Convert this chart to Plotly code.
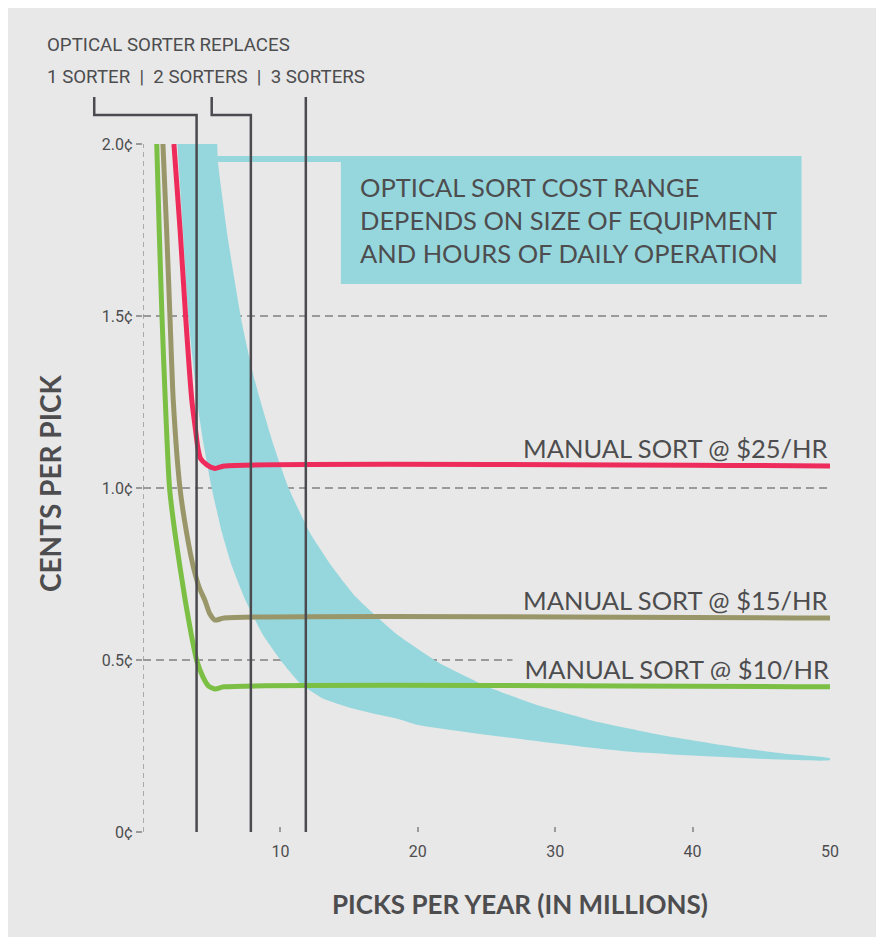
import plotly.graph_objects as go

# ---------------- data ----------------
band_upper_x = [5.4, 5.45, 6.2, 7.2, 8.15, 9.5, 10.6, 12.15, 13.7, 15.5, 18.4, 21.5, 25.0, 28.4, 33.2, 38.1, 42.9, 46.6, 50.0]
band_upper_y = [2.0, 1.95, 1.72, 1.48, 1.31, 1.125, 1.0, 0.87, 0.775, 0.683, 0.577, 0.493, 0.424, 0.373, 0.319, 0.279, 0.248, 0.228, 0.214]
band_lower_x = [2.5, 2.9, 3.3, 3.95, 4.4, 5.0, 5.75, 6.5, 7.5, 8.7, 10.2, 11.5, 13.1, 15.0, 17.0, 18.7, 20.0, 35.0, 50.0]
band_lower_y = [2.0, 1.75, 1.5, 1.25, 1.13, 1.0, 0.87, 0.77, 0.67, 0.575, 0.49, 0.43, 0.388, 0.362, 0.342, 0.327, 0.311, 0.235, 0.209]

red_x = [2.25, 2.7, 3.1, 3.55, 3.82, 4.0, 4.2, 4.63, 5.24, 5.9, 50.0]
red_y = [2.0, 1.75, 1.5, 1.256, 1.17, 1.115, 1.085, 1.068, 1.057, 1.064, 1.064]

olive_x = [1.45, 1.72, 1.96, 2.2, 2.69, 3.18, 3.66, 4.1, 4.5, 4.85, 5.24, 5.9, 50.0]
olive_y = [2.0, 1.75, 1.5, 1.256, 1.0, 0.868, 0.771, 0.71, 0.674, 0.635, 0.616, 0.622, 0.622]

green_x = [1.0, 1.18, 1.38, 1.62, 1.93, 2.33, 2.69, 3.07, 3.5, 3.9, 4.37, 4.75, 5.24, 5.9, 50.0]
green_y = [2.0, 1.75, 1.5, 1.256, 1.0, 0.868, 0.771, 0.674, 0.577, 0.5, 0.45, 0.425, 0.416, 0.422, 0.422]

manual_labels = ["MANUAL SORT @ $25/HR", "MANUAL SORT @ $15/HR", "MANUAL SORT @ $10/HR"]
sorter_x = [3.9, 7.85, 11.85]          # optical sorter replaces 1 / 2 / 3 sorters
sorter_label_x = [-3.55, 5.0, 11.85]   # where the brackets meet the header labels
y_tickvals = [0, 0.5, 1.0, 1.5, 2.0]
y_ticktext = ["0¢", "0.5¢", "1.0¢", "1.5¢", "2.0¢"]
x_tickvals = [10, 20, 30, 40, 50]
callout_text = "OPTICAL SORT COST RANGE<br>DEPENDS ON SIZE OF EQUIPMENT<br>AND HOURS OF DAILY OPERATION"

# ---------------- style ----------------
BG = "#e8e8e8"
TEXT = "#4d4d4f"
GRID = "#9a9a9a"
CYAN = "#96d7dd"
RED = "#ee2c5c"
OLIVE = "#99976a"
GREEN = "#7bbf44"
DARK = "#4a4a4f"
MAIN_FONT = "Lato, 'Open Sans', sans-serif"
NARROW_FONT = "Roboto, 'Open Sans', sans-serif"

W, H = 884, 937
ML, MR, MT, MB = 135, 62, 136, 113
PW, PH = W - ML - MR, H - MT - MB
X0, X1 = 0, 50
Y0, Y1 = 0, 2.0
OFF = 8  # page body margin


def paper_x(win_px):
    return (win_px - OFF - ML) / PW


def paper_y(win_py):
    return (H - MB - (win_py - OFF)) / PH


def data_to_paper_x(v):
    return (v - X0) / (X1 - X0)


fig = go.Figure()

# band
fig.add_trace(go.Scatter(
    x=band_upper_x + band_lower_x[::-1],
    y=band_upper_y + band_lower_y[::-1],
    fill="toself", fillcolor=CYAN, mode="lines",
    line=dict(width=0, color=CYAN, shape="spline", smoothing=0.5),
    hoverinfo="skip", showlegend=False))

for xs, ys, col in [(green_x, green_y, GREEN), (olive_x, olive_y, OLIVE), (red_x, red_y, RED)]:
    fig.add_trace(go.Scatter(x=xs, y=ys, mode="lines",
                             line=dict(color=col, width=5, shape="spline", smoothing=0.6),
                             hoverinfo="skip", showlegend=False))

shapes = []
# dashed y axis line
shapes.append(dict(type="line", xref="x", yref="y", x0=0, x1=0, y0=Y0, y1=Y1,
                   line=dict(color=GRID, width=1.6, dash="5px,4px"), layer="below"))
# callout box and connector strip
shapes.append(dict(type="rect", xref="x", yref="y", x0=14.4, x1=47.93, y0=1.593, y1=1.965,
                   fillcolor=CYAN, line=dict(width=0), layer="above"))
shapes.append(dict(type="rect", xref="x", yref="y", x0=5.4, x1=14.5, y0=1.948, y1=1.965,
                   fillcolor=CYAN, line=dict(width=0), layer="above"))

# vertical sorter lines with brackets
top_bracket = paper_y(115)
top_end = paper_y(97)
for sx, lx in zip(sorter_x, sorter_label_x):
    xp = data_to_paper_x(sx)
    lp = data_to_paper_x(lx)
    shapes.append(dict(type="path", xref="paper", yref="paper",
                       path=f"M {xp},0 L {xp},{top_bracket} L {lp},{top_bracket} L {lp},{top_end}",
                       line=dict(color=DARK, width=2.5), layer="above"))

annotations = []
# manual labels
manual_levels = [red_y[-1], olive_y[-1], green_y[-1]]
for i, (lab, lev) in enumerate(zip(manual_labels, manual_levels)):
    a = dict(x=50, y=lev, xref="x", yref="y", text=lab, showarrow=False,
             xanchor="right", yanchor="middle", yshift=18,
             font=dict(family=MAIN_FONT, size=25.5, color=TEXT))
    if i == 2:
        a.update(bgcolor=BG, width=316, height=22, align="right", borderpad=0)
    annotations.append(a)

annotations.append(dict(x=15.65, y=1.779, xref="x", yref="y", text=callout_text, showarrow=False,
                        xanchor="left", yanchor="middle", align="left",
                        font=dict(family=MAIN_FONT, size=25.5, color=TEXT)))

annotations.append(dict(x=paper_x(45), y=paper_y(45), xref="paper", yref="paper",
                        text="OPTICAL SORTER REPLACES", showarrow=False, xanchor="left", yanchor="middle",
                        font=dict(family=NARROW_FONT, size=18.7, color=TEXT)))
annotations.append(dict(x=paper_x(45), y=paper_y(77), xref="paper", yref="paper",
                        text="1 SORTER  |  2 SORTERS  |  3 SORTERS", showarrow=False,
                        xanchor="left", yanchor="middle",
                        font=dict(family=NARROW_FONT, size=18.7, color=TEXT)))

annotations.append(dict(x=paper_x(520), y=paper_y(904),
                        xref="paper", yref="paper", text="PICKS PER YEAR (IN MILLIONS)",
                        showarrow=False, xanchor="center", yanchor="middle",
                        font=dict(family=MAIN_FONT, size=26, color=TEXT, weight=700)))
annotations.append(dict(x=paper_x(50), y=paper_y(483),
                        xref="paper", yref="paper", text="CENTS PER PICK", textangle=-90,
                        showarrow=False, xanchor="center", yanchor="middle",
                        font=dict(family=MAIN_FONT, size=28, color=TEXT, weight=700)))

fig.update_layout(
    width=W, height=H,
    margin=dict(l=ML, r=MR, t=MT, b=MB, pad=0),
    paper_bgcolor=BG, plot_bgcolor=BG,
    showlegend=False,
    shapes=shapes, annotations=annotations,
    xaxis=dict(range=[X0, X1], tickvals=x_tickvals, ticktext=[str(v) for v in x_tickvals],
               showgrid=False, zeroline=False, showline=False,
               ticks="inside", ticklen=5, tickwidth=1.5, tickcolor=GRID, ticklabelstandoff=8,
               tickfont=dict(family=NARROW_FONT, size=16, color=TEXT), fixedrange=True),
    yaxis=dict(range=[Y0, Y1], tickvals=y_tickvals, ticktext=y_ticktext,
               showgrid=True, gridcolor=GRID, gridwidth=1.5, griddash="8px,5px",
               zeroline=False, showline=False,
               ticks="outside", ticklen=6, tickwidth=1.5, tickcolor=GRID,
               tickfont=dict(family=NARROW_FONT, size=16, color=TEXT), fixedrange=True),
)

fig.write_html("out.html")
